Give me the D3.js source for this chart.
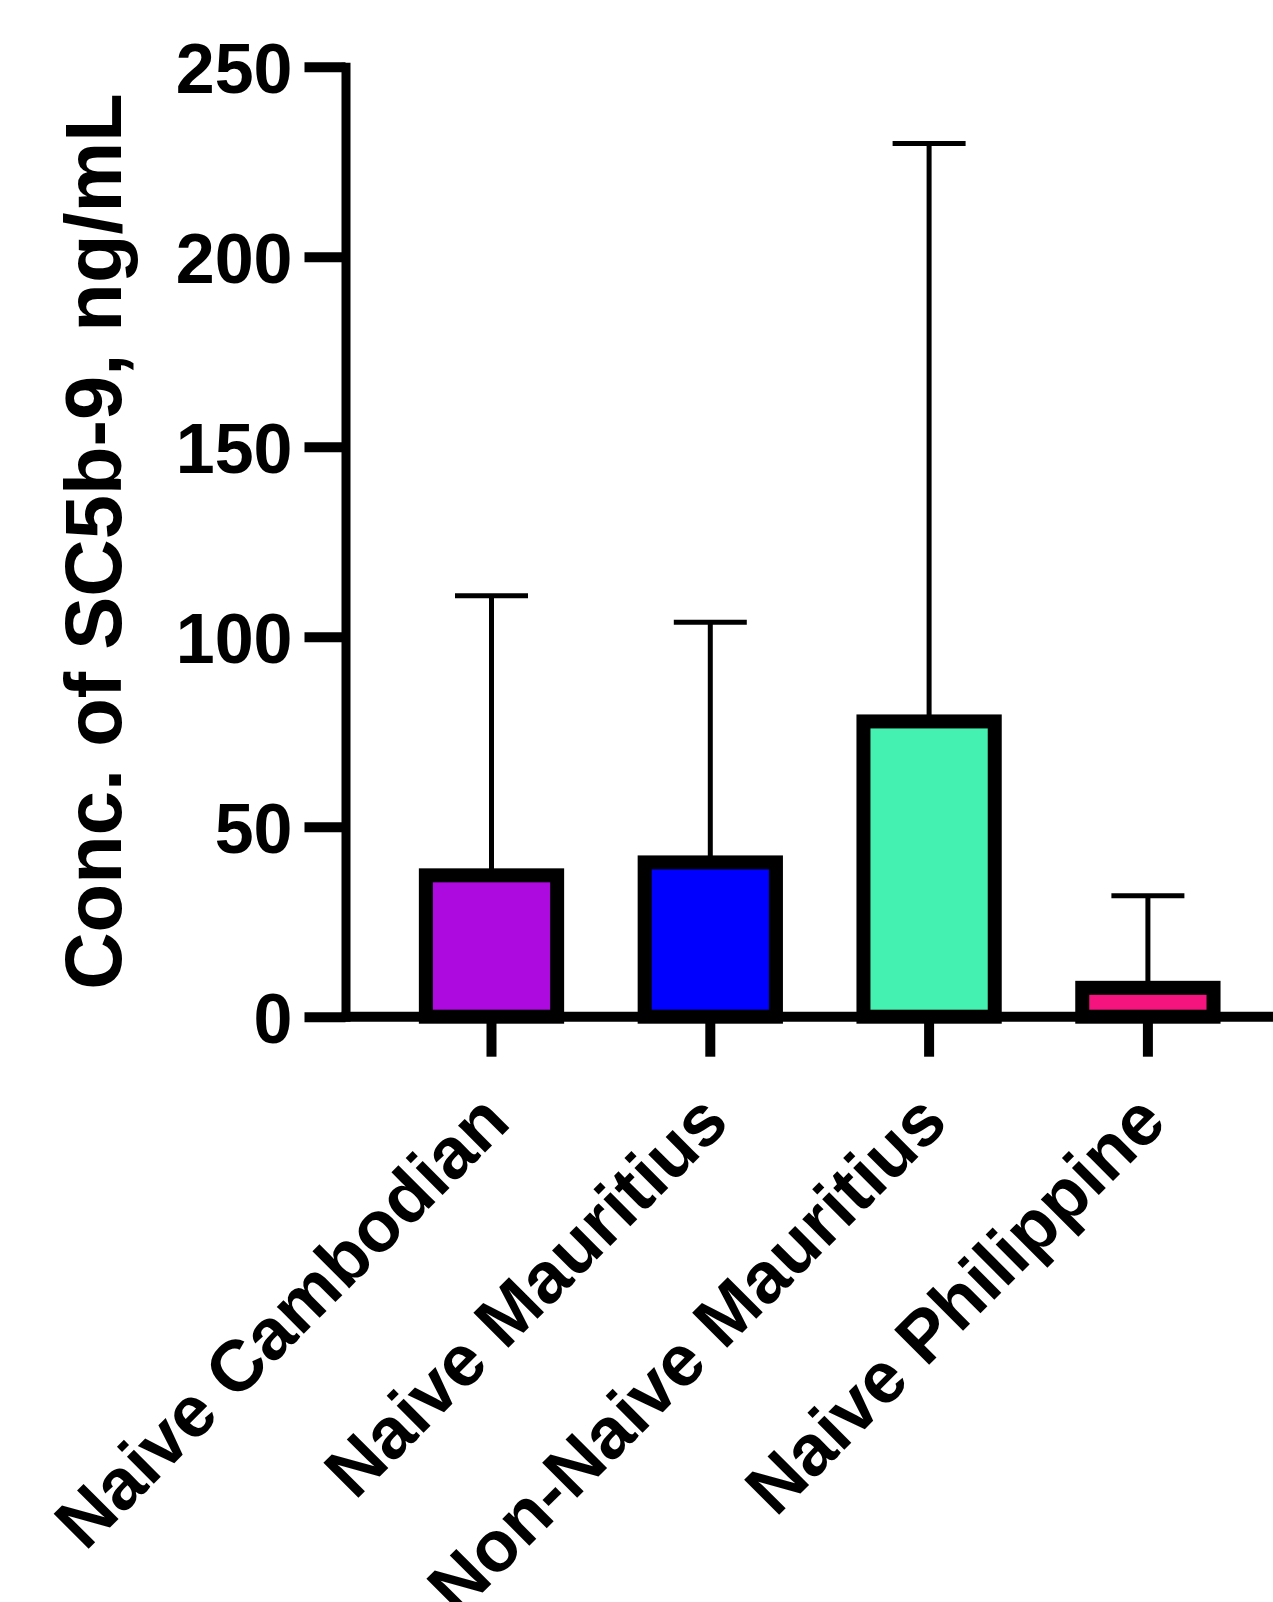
<!DOCTYPE html>
<html>
<head>
<meta charset="utf-8">
<script src="https://cdn.jsdelivr.net/npm/d3@7"></script>
<style>
  html, body { margin: 0; padding: 0; background: #fff; }
  svg text { font-family: "Liberation Sans", Arial, sans-serif; font-weight: bold; fill: #000; }
</style>
</head>
<body>
<div id="chart"></div>
<script>
// chart data
const groups = ['Naive Cambodian', 'Naive Mauritius', 'Non-Naive Mauritius', 'Naive Philippine'];
const meanValues = [37.2, 40.6, 77.7, 7.6];
const upperValues = [110.8, 103.8, 229.8, 31.8];
const barColors = ['#ad0ae0', '#0000ff', '#45f1b0', '#f5147e'];
const yTicks = [0, 50, 100, 150, 200, 250];
const yTitle = 'Conc. of SC5b-9, ng/mL';

const width = 1273, height = 1602;
const svg = d3.select('#chart').append('svg')
  .attr('width', width)
  .attr('height', height);

const y = d3.scaleLinear().domain([0, 250]).range([1016.7, 66.7]);
const x = d3.scaleBand().domain(groups)
  .range([382.1, 1257.3])
  .paddingInner(0.4)
  .paddingOuter(0.2);

// y axis
const yAxis = svg.append('g')
  .attr('transform', 'translate(345.5,0)')
  .call(d3.axisLeft(y).tickValues(yTicks).tickSize(41).tickSizeOuter(0).tickPadding(12));
yAxis.select('.domain').attr('stroke-width', 9).attr('stroke-linecap', 'square');
yAxis.selectAll('.tick line').attr('stroke-width', 10);
yAxis.selectAll('.tick text')
  .attr('font-size', 70)
  .attr('dy', '0.37em');

// x axis ticks (labels drawn separately, rotated)
const xAxis = svg.append('g')
  .attr('transform', `translate(0,${y(0)})`)
  .call(d3.axisBottom(x).tickSize(40).tickFormat(''));
xAxis.select('.domain').remove();
xAxis.selectAll('.tick line').attr('stroke-width', 10);

// error bars (upper only)
const errs = svg.append('g');
groups.forEach((g, i) => {
  const cx = x(g) + x.bandwidth() / 2;
  errs.append('line')
    .attr('x1', cx).attr('x2', cx)
    .attr('y1', y(meanValues[i])).attr('y2', y(upperValues[i]))
    .attr('stroke', '#000').attr('stroke-width', 5);
  errs.append('line')
    .attr('x1', cx - 36.5).attr('x2', cx + 36.5)
    .attr('y1', y(upperValues[i])).attr('y2', y(upperValues[i]))
    .attr('stroke', '#000').attr('stroke-width', 5);
});

// bars
svg.append('g').selectAll('rect')
  .data(groups)
  .join('rect')
  .attr('x', d => x(d))
  .attr('y', (d, i) => y(meanValues[i]))
  .attr('width', x.bandwidth())
  .attr('height', (d, i) => y(0) - y(meanValues[i]))
  .attr('fill', (d, i) => barColors[i])
  .attr('stroke', '#000')
  .attr('stroke-width', 14);

// baseline drawn over the bar bottoms
svg.append('line')
  .attr('x1', 341.5).attr('x2', width)
  .attr('y1', y(0)).attr('y2', y(0))
  .attr('stroke', '#000')
  .attr('stroke-width', 10);

// rotated category labels
svg.append('g').selectAll('text')
  .data(groups)
  .join('text')
  .attr('font-size', 72)
  .attr('text-anchor', 'end')
  .attr('transform', d => `translate(${x(d) + x.bandwidth() / 2 + 21},1125) rotate(-45)`)
  .text(d => d);

// y axis title
svg.append('text')
  .attr('font-size', 79.5)
  .attr('text-anchor', 'middle')
  .attr('transform', 'translate(121,541.5) rotate(-90)')
  .text(yTitle);
</script>
</body>
</html>
